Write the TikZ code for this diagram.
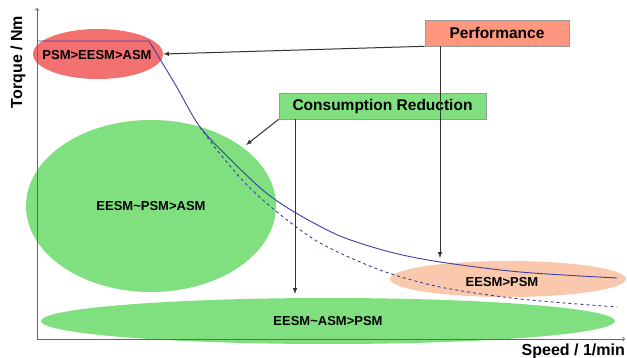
\documentclass[tikz,border=0pt]{standalone}
\usepackage{fontspec}
\setmainfont{Liberation Sans}
\usetikzlibrary{shapes.geometric, positioning}

\definecolor{redzone}{RGB}{242,112,112}
\definecolor{greenzone}{RGB}{128,224,128}
\definecolor{peachzone}{RGB}{250,200,172}
\definecolor{perfred}{RGB}{255,150,125}
\definecolor{curveblue}{RGB}{62,62,160}

\tikzset{
  zone/.style={ellipse, inner sep=0pt, font=\fontsize{13}{15}\selectfont\bfseries},
  tagbox/.style={rectangle, draw=black!40, line width=0.6pt, inner sep=0pt, font=\fontsize{15.5}{18}\selectfont\bfseries},
  conn/.style={-latex, line width=1pt, draw=black!80},
  axis/.style={->, line width=0.8pt, draw=black!60},
  curve/.style={line width=0.9pt, draw=curveblue},
  axislabel/.style={font=\fontsize{16}{18}\selectfont\bfseries},
}

\begin{document}
\begin{tikzpicture}[x=1pt, y=-1pt]
    \useasboundingbox (0,0) rectangle (627,358);
    \fill[white] (0,0) rectangle (627,358);

    % Operating zones
    \node[zone, fill=greenzone, minimum width=250, minimum height=172] (eppa) at (151,206) {EESM\textasciitilde PSM>ASM};
    \node[zone, fill=greenzone, minimum width=574, minimum height=46] (eapp) at (328,321) {EESM\textasciitilde ASM>PSM};
    \node[zone, fill=peachzone, minimum width=236, minimum height=36] (epsm) at (508,279) {};
    \node[zone] at (502,282) {EESM>PSM};
    \node[zone, fill=redzone, minimum width=130, minimum height=50] (psm) at (98,54) {};
    \node[zone] at (97,55) {PSM>EESM>ASM};

    % Torque-speed curves
    \draw[curve] (37,41) -- plot[smooth] coordinates {(149,41) (175,84) (200,127) (233,162) (265,192) (296,213) (340,236) (390,252) (440,262) (520,272) (617,278)};
    \draw[curve, dashed] plot[smooth] coordinates {(200,127) (217,150) (245,183) (277,212) (320,243) (380,270) (440,287) (520,299) (617,307)};

    % Axes
    \coordinate (O) at (37,339);
    \coordinate (ytop) at (37,8);
    \coordinate (xend) at (625,339);
    \draw[axis] (O) -- (ytop);
    \draw[axis] (O) -- (xend);
    \node[axislabel, rotate=90] (tlabel) at (18,62) {Torque / Nm};
    \node[axislabel, anchor=east, inner sep=0pt] (slabel) at (625,351) {Speed / 1/min};

    % Aims
    \node[tagbox, fill=perfred, minimum width=144, minimum height=26] (perf) at (497,33) {Performance};
    \node[tagbox, fill=greenzone, minimum width=207, minimum height=26] (cons) at (382.5,106) {Consumption Reduction};

    % Connectors
    \coordinate (perftip) at (440,258);
    \coordinate (constip) at (295,294);
    \coordinate (eppatip) at (246,145);
    \draw[conn] (perf.south west) -- (psm.east);
    \draw[conn] (perf.south west -| perftip) -- (perftip);
    \draw[conn] (cons.south west) -- (eppatip);
    \draw[conn] (cons.south west -| constip) -- (constip);
\end{tikzpicture}
\end{document}
